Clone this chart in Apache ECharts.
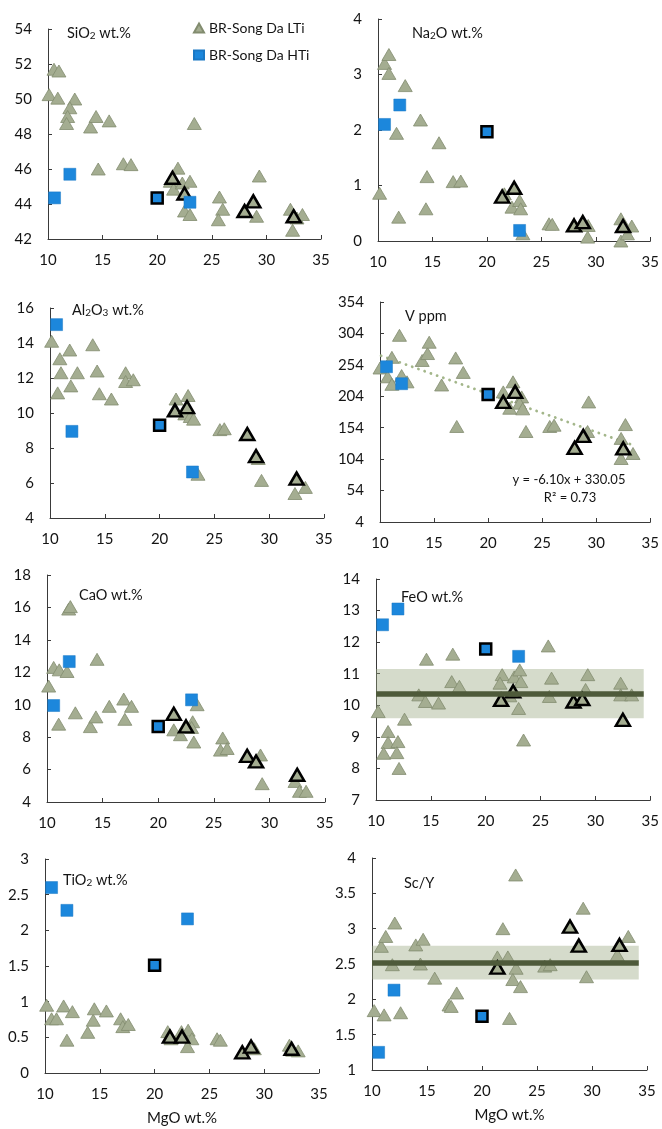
<!DOCTYPE html>
<html>
<head>
<meta charset="utf-8">
<script src="https://cdn.jsdelivr.net/npm/echarts@6/dist/echarts.min.js"></script>
<style>html,body{margin:0;padding:0;background:#fff;}#c{width:662px;height:1129px;}</style>
</head>
<body>
<div id="c"></div>
<script>
// ---------- shared ----------
const xTicks = [10, 15, 20, 25, 30, 35];
const htiMgO = [10.6, 12.0, 23.0];
const htiBoldMgO = [20.0];
const ltiBoldMgO = [21.4, 22.5, 28.0, 28.8, 32.5];

// ---------- SiO2 ----------
const sio2Lti = [[10.1,50.25],[10.55,51.7],[11.0,51.6],[10.9,50.05],[12.45,50.0],[12.0,49.5],[11.8,49.0],[11.7,48.6],[13.9,48.4],[14.4,49.0],[15.6,48.75],[14.6,46.0],[16.9,46.3],[17.6,46.25],[23.4,48.6],[21.9,46.05],[21.2,45.3],[21.5,44.85],[22.3,45.2],[23.0,45.3],[22.5,43.6],[23.0,43.4],[25.7,44.4],[26.0,43.7],[25.6,43.1],[29.35,45.6],[29.1,43.3],[32.2,43.7],[32.4,42.5],[32.8,43.2],[33.3,43.4]];
const sio2Hti = [44.35, 45.7, 44.1];
const sio2HtiBold = [44.35];
const sio2LtiBold = [45.5, 44.6, 43.6, 44.15, 43.3];

// ---------- Na2O ----------
const na2oLti = [[10.15,0.86],[10.6,3.2],[11.0,3.36],[11.0,3.02],[12.5,2.8],[11.7,1.94],[11.9,0.43],[13.9,2.18],[15.6,1.77],[14.5,1.16],[14.4,0.58],[16.9,1.07],[17.6,1.08],[21.6,0.85],[22.3,0.61],[23.0,0.73],[23.1,0.58],[23.3,0.13],[25.7,0.31],[26.0,0.3],[29.25,0.07],[29.3,0.28],[32.3,0.4],[32.3,0.0],[32.9,0.13],[33.3,0.27]];
const na2oHti = [2.1, 2.45, 0.19];
const na2oHtiBold = [1.97];
const na2oLtiBold = [0.8, 0.96, 0.28, 0.34, 0.27];

// ---------- Al2O3 ----------
const al2o3Lti = [[10.15,14.1],[11.8,13.6],[13.9,13.9],[10.9,13.1],[11.0,12.3],[12.5,12.3],[14.3,12.4],[10.7,11.15],[11.9,11.55],[14.5,11.1],[15.6,10.8],[16.9,12.3],[16.9,11.8],[17.6,11.9],[21.5,10.8],[22.6,11.0],[22.3,9.95],[22.8,9.8],[23.1,9.65],[25.5,9.05],[25.9,9.1],[29.0,7.4],[29.3,6.15],[23.5,6.5],[32.35,5.4],[32.5,6.3],[33.3,5.75]];
const al2o3Hti = [15.05, 8.95, 6.63];
const al2o3HtiBold = [9.3];
const al2o3LtiBold = [10.15, 10.34, 8.8, 7.54, 6.25];

// ---------- V ----------
const vLti = [[10.0,249],[11.1,266],[11.8,301],[10.7,235],[11.1,223],[12.0,237],[12.5,227],[13.9,261],[14.4,272],[14.55,290],[15.7,222],[17.0,265],[17.7,242],[17.1,156],[21.4,211],[22.3,227],[22.5,213],[23.1,203],[22.0,185],[22.9,193],[23.2,184],[23.5,148],[25.7,156],[26.1,158],[29.3,195],[29.2,148],[32.3,137],[32.7,159],[32.3,105],[33.4,113]];
const vHti = [251, 224, null];
const vHtiBold = [207];
const vLtiBold = [195, 211, 122, 141, 121];
const vTicks = [4, 54, 104, 154, 204, 254, 304, 354];
const vTrend = [[10.1, 268.5], [33.2, 127.5]];

// ---------- CaO ----------
const caoLti = [[10.15,11.15],[10.6,12.3],[11.1,12.15],[11.8,12.05],[11.95,15.9],[12.1,16.05],[11.05,8.8],[12.55,9.5],[13.9,8.65],[14.4,9.25],[14.5,12.8],[15.6,9.9],[16.9,10.35],[17.6,9.9],[17.0,9.1],[21.4,8.45],[22.0,8.15],[23.1,8.95],[23.2,7.7],[23.5,10.0],[23.0,8.6],[25.8,7.95],[25.6,7.2],[26.2,7.3],[29.2,6.9],[29.35,5.13],[32.3,5.27],[32.7,4.66],[33.3,4.66]];
const caoHti = [9.95, 12.66, 10.3];
const caoHtiBold = [8.66];
const caoLtiBold = [9.44, 8.66, 6.85, 6.5, 5.68];

// ---------- FeO ----------
const feoLti = [[10.2,9.8],[11.1,9.17],[11.1,8.82],[10.7,8.48],[12.0,8.85],[11.9,8.5],[12.1,8.0],[12.6,9.56],[13.9,10.33],[14.5,10.12],[14.6,11.46],[15.7,10.07],[17.0,11.62],[16.9,10.75],[17.6,10.6],[21.5,10.97],[21.3,10.7],[22.6,10.9],[23.1,11.12],[23.2,10.75],[22.2,10.3],[23.0,9.9],[23.45,8.9],[25.7,11.88],[26.0,10.86],[25.8,10.28],[29.3,10.97],[29.1,10.5],[32.3,10.7],[32.3,10.33],[33.3,10.33]];
const feoHti = [12.55, 13.05, 11.55];
const feoHtiBold = [11.78];
const feoLtiBold = [10.17, 10.44, 10.12, 10.2, 9.54];
const feoBand = [9.59, 10.36, 11.15];   // low, mean, high
const feoBandX = [10, 34.4];

// ---------- TiO2 ----------
const tio2Lti = [[10.15,0.95],[10.6,0.76],[11.05,0.76],[11.7,0.94],[12.0,0.46],[12.5,0.86],[13.9,0.57],[14.4,0.74],[14.5,0.9],[15.6,0.87],[16.9,0.76],[17.1,0.65],[17.6,0.68],[21.2,0.58],[21.5,0.48],[22.45,0.58],[23.06,0.6],[23.4,0.48],[23.0,0.37],[25.7,0.48],[26.0,0.46],[29.1,0.34],[32.3,0.39],[33.1,0.31],[32.6,0.32]];
const tio2Hti = [2.6, 2.28, 2.16];
const tio2HtiBold = [1.51];
const tio2LtiBold = [0.51, 0.51, 0.29, 0.37, 0.34];

// ---------- Sc/Y ----------
const scyLti = [[10.2,1.84],[11.1,1.78],[12.6,1.81],[10.85,2.75],[11.25,2.89],[12.07,3.08],[11.85,2.49],[13.98,2.77],[14.65,2.85],[14.4,2.5],[15.7,2.3],[17.0,1.92],[17.7,2.09],[17.2,1.9],[23.06,3.76],[21.9,3.0],[21.4,2.6],[22.35,2.6],[23.1,2.44],[22.8,2.28],[23.5,2.18],[22.5,1.73],[25.7,2.47],[26.2,2.49],[29.2,3.29],[29.5,2.32],[32.3,2.63],[33.3,2.89]];
const scyHti = [1.25, 2.13, null];
const scyHtiBold = [1.76];
const scyLtiBold = [2.45, null, 3.03, 2.76, 2.77];
const scyBand = [2.28, 2.52, 2.76];
const scyBandX = [10, 34.25];

// ---------- styling / layout ----------
const FONT = 'Lato';
const LTI_NAME = 'BR-Song Da LTi';
const HTI_NAME = 'BR-Song Da HTi';
const triFill = '#a4ad91';
const triEdge = '#828c6f';
const blue = '#1c87dc';

const panels = [
  {title:'{m|SiO}{s|2}{m| wt.%}', tl:[67,25], grid:{left:48,top:29,width:273,height:210}, y:[42,54,2], lti:sio2Lti, hti:sio2Hti, hb:sio2HtiBold, lb:sio2LtiBold},
  {title:'{m|Na}{s|2}{m|O wt.%}', tl:[412,25], grid:{left:378,top:19,width:273,height:222}, y:[0,4,1], lti:na2oLti, hti:na2oHti, hb:na2oHtiBold, lb:na2oLtiBold},
  {title:'{m|Al}{s|2}{m|O}{s|3}{m| wt.%}', tl:[72,302], grid:{left:50,top:308,width:274,height:210}, y:[4,16,2], lti:al2o3Lti, hti:al2o3Hti, hb:al2o3HtiBold, lb:al2o3LtiBold},
  {title:'{m|V ppm}', tl:[405,308], grid:{left:380,top:302,width:271,height:220}, y:[4,354,50], custom:vTicks, lti:vLti, hti:vHti, hb:vHtiBold, lb:vLtiBold},
  {title:'{m|CaO wt.%}', tl:[79,587], grid:{left:47,top:575,width:278,height:227}, y:[4,18,2], lti:caoLti, hti:caoHti, hb:caoHtiBold, lb:caoLtiBold},
  {title:'{m|FeO wt.%}', tl:[401,589], grid:{left:376,top:579,width:275,height:221}, y:[7,14,1], lti:feoLti, hti:feoHti, hb:feoHtiBold, lb:feoLtiBold, band:feoBand, bandX:feoBandX},
  {title:'{m|TiO}{s|2}{m| wt.%}', tl:[63,872], grid:{left:45,top:859,width:274,height:214}, y:[0,3,0.5], lti:tio2Lti, hti:tio2Hti, hb:tio2HtiBold, lb:tio2LtiBold, xname:true},
  {title:'{m|Sc/Y}', tl:[404,875], grid:{left:372,top:858,width:275,height:212}, y:[1,4,0.5], lti:scyLti, hti:scyHti, hb:scyHtiBold, lb:scyLtiBold, band:scyBand, bandX:scyBandX, xname:true}
];

function pair(xs, ys){ return xs.map((x,i)=> ys[i]==null ? null : [x, ys[i]]).filter(d=>d); }

const axisLine = {show:true, lineStyle:{color:'#3a3a3a', width:1}};
const labelStyle = {fontFamily:FONT, fontSize:15, color:'#141414'};

const option = {
  backgroundColor:'#fff',
  animation:false,
  textStyle:{fontFamily:FONT},
  grid:[], xAxis:[], yAxis:[], series:[], title:[],
  legend:{
    data:[LTI_NAME, HTI_NAME], orient:'vertical', left:193, top:21,
    itemWidth:10, itemHeight:9, itemGap:13, padding:0,
    textStyle:{fontFamily:FONT, fontSize:14, color:'#141414'}
  },
  graphic:[
    {type:'text', x:569, y:480, style:{text:'y = -6.10x + 330.05', font:'13px Lato', fill:'#141414', align:'center', verticalAlign:'middle'}},
    {type:'text', x:570, y:498, style:{text:'R\u00B2 = 0.73', font:'13px Lato', fill:'#141414', align:'center', verticalAlign:'middle'}}
  ]
};

panels.forEach((p, i) => {
  option.grid.push(p.grid);
  option.xAxis.push({
    type:'value', gridIndex:i, min:xTicks[0], max:xTicks[xTicks.length-1], interval:5,
    axisLine, axisTick:{show:true, inside:true, length:4, lineStyle:{color:'#3a3a3a'}},
    axisLabel:Object.assign({margin:14}, labelStyle), splitLine:{show:false},
    name: p.xname ? 'MgO wt.%' : '', nameLocation:'middle', nameGap:38,
    nameTextStyle:{fontFamily:FONT, fontSize:15, color:'#141414'}
  });
  const ya = {
    type:'value', gridIndex:i, min:p.y[0], max:p.y[1], interval:p.y[2],
    axisLine, axisTick:{show:true, inside:true, length:4, lineStyle:{color:'#3a3a3a'}},
    axisLabel:Object.assign({margin:16}, labelStyle), splitLine:{show:false}
  };
  if (p.custom) {
    ya.axisLabel.customValues = p.custom;
    ya.axisTick.customValues = p.custom;
  }
  option.yAxis.push(ya);
  option.title.push({
    text:p.title, left:p.tl[0], top:p.tl[1], padding:0,
    textStyle:{fontFamily:FONT, fontSize:14.5, fontWeight:'normal', color:'#141414',
      rich:{
        m:{fontFamily:FONT, fontSize:14.5, color:'#141414', lineHeight:16},
        s:{fontFamily:FONT, fontSize:10, color:'#141414', lineHeight:5, verticalAlign:'bottom'}
      }}
  });
  option.series.push({
    name:LTI_NAME, type:'scatter', xAxisIndex:i, yAxisIndex:i, symbol:'triangle', symbolSize:[14,12],
    itemStyle:{color:triFill, borderColor:triEdge, borderWidth:0.8, opacity:1}, data:p.lti, z:2
  });
  option.series.push({
    name:'LTi (bold)', type:'scatter', xAxisIndex:i, yAxisIndex:i, symbol:'triangle', symbolSize:[14,12],
    itemStyle:{color:triFill, borderColor:'#000', borderWidth:2.5, opacity:1}, data:pair(ltiBoldMgO, p.lb), z:3
  });
  option.series.push({
    name:HTI_NAME, type:'scatter', xAxisIndex:i, yAxisIndex:i, symbol:'rect', symbolSize:12,
    itemStyle:{color:blue, borderColor:'#1a78c4', borderWidth:0.5, opacity:1}, data:pair(htiMgO, p.hti), z:4
  });
  option.series.push({
    name:'HTi (bold)', type:'scatter', xAxisIndex:i, yAxisIndex:i, symbol:'rect', symbolSize:11,
    itemStyle:{color:blue, borderColor:'#000', borderWidth:2.5, opacity:1}, data:pair(htiBoldMgO, p.hb), z:4
  });
  if (p.band) {
    option.series.push({
      name:'band', type:'scatter', xAxisIndex:i, yAxisIndex:i, data:[], z:5, silent:true,
      markArea:{silent:true, itemStyle:{color:'rgba(150,165,125,0.40)'},
        data:[[{coord:[p.bandX[0], p.band[0]]}, {coord:[p.bandX[1], p.band[2]]}]]},
      markLine:{silent:true, symbol:'none', label:{show:false},
        lineStyle:{color:'#4e5a3a', width:5.5, type:'solid'},
        data:[[{coord:[p.bandX[0], p.band[1]]}, {coord:[p.bandX[1], p.band[1]]}]]}
    });
  }
});

// V trend line (panel index 3)
option.series.push({
  name:'trend', type:'line', xAxisIndex:3, yAxisIndex:3, data:vTrend, symbol:'none', z:1, silent:true,
  lineStyle:{color:'#a3b68a', width:2.8, type:[0.1, 6.5], cap:'round'}
});

const chart = echarts.init(document.getElementById('c'), null, {renderer:'canvas'});
chart.setOption(option);
</script>
</body>
</html>
